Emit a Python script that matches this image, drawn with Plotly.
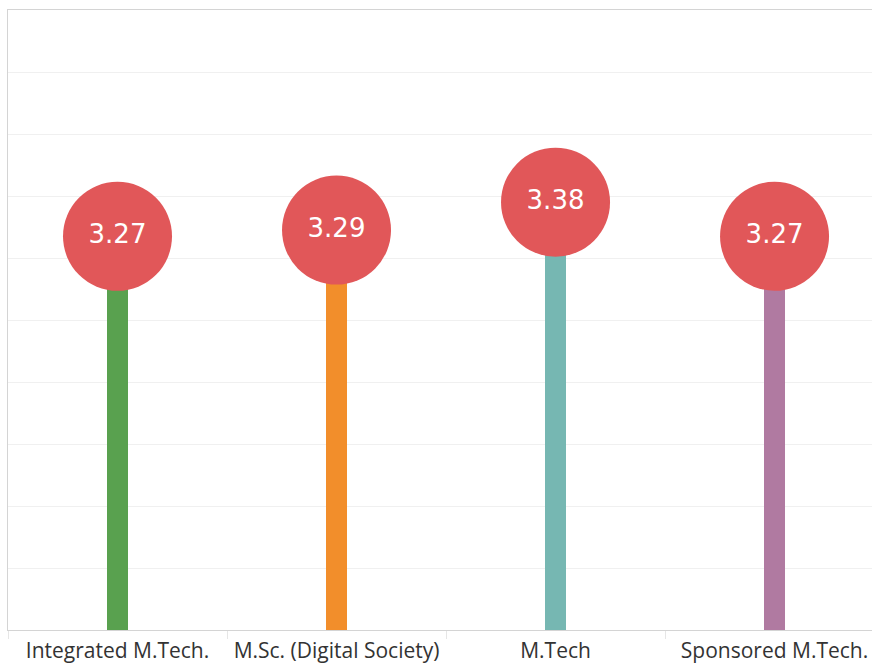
import plotly.graph_objects as go

categories = ["Integrated M.Tech.", "M.Sc. (Digital Society)", "M.Tech", "Sponsored M.Tech."]
values = [3.27, 3.29, 3.38, 3.27]
labels = ["3.27", "3.29", "3.38", "3.27"]
bar_colors = ["#59A14F", "#F28E2B", "#76B7B2", "#B07AA1"]

fig = go.Figure()
fig.add_trace(go.Bar(
    x=categories, y=values, width=0.1,
    marker=dict(color=bar_colors, line=dict(width=0)),
    hoverinfo="skip", showlegend=False,
))
fig.add_trace(go.Scatter(
    x=categories, y=values, mode="markers+text",
    marker=dict(size=109, color="#E15759", line=dict(width=0)),
    text=labels, textposition="middle center",
    textfont=dict(family="DejaVu Sans", size=26, color="white"),
    cliponaxis=False, showlegend=False,
))
fig.update_layout(
    width=872, height=664,
    margin=dict(l=8, r=0, t=10, b=32),
    paper_bgcolor="white", plot_bgcolor="white",
    bargap=0,
    xaxis=dict(
        range=[-0.5, 3.445], showgrid=False, tickson="boundaries",
        ticks="outside", ticklen=8, tickcolor="#e6e6e6", tickwidth=1,
        showline=True, linecolor="#d4d4d4", linewidth=1, mirror=True,
        tickfont=dict(family="Open Sans", size=21, color="#333333"),
        ticklabelstandoff=2,
        fixedrange=True,
    ),
    yaxis=dict(
        range=[2.0, 4.0], dtick=0.2, showgrid=True, gridcolor="#f0f0f0", gridwidth=1,
        showticklabels=False, zeroline=False, showline=True, linecolor="#d4d4d4", linewidth=1,
        fixedrange=True,
    ),
)
fig.write_html(
    "out.html",
    config={"displayModeBar": False},
    post_script="document.body.style.margin='0';document.body.style.overflow='hidden';",
)
